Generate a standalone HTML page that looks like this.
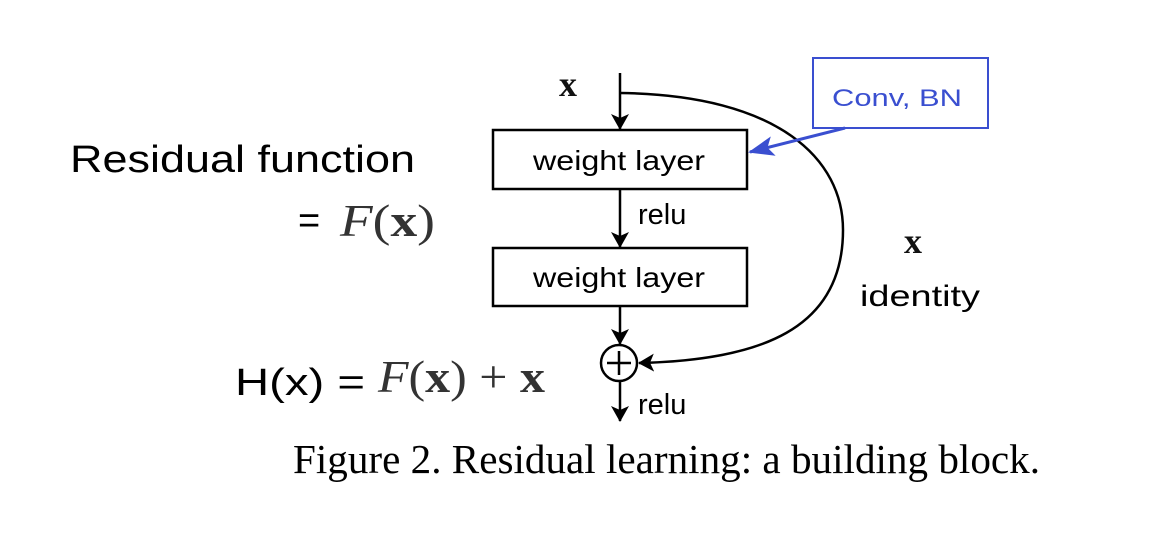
<!DOCTYPE html>
<html><head><meta charset="utf-8"><style>
html,body{margin:0;padding:0;background:#fff;}
</style></head><body>
<svg width="1174" height="530" viewBox="0 0 1174 530" xmlns="http://www.w3.org/2000/svg">
<defs>
<marker id="ah" markerWidth="16" markerHeight="18" refX="15" refY="9" orient="auto" markerUnits="userSpaceOnUse" viewBox="0 0 16 18">
<path d="M0,0 L16,9 L0,18 L4,9 z" fill="#000"/>
</marker>
<marker id="bh" markerWidth="26" markerHeight="20" refX="24" refY="10" orient="auto" markerUnits="userSpaceOnUse" viewBox="0 0 26 20">
<path d="M0,0 L26,10 L0,20 L6,10 z" fill="#3a4fd0"/>
</marker>
</defs>
<g stroke="#000" stroke-width="2.5" fill="none">
<line x1="620" y1="73" x2="620" y2="129" marker-end="url(#ah)"/>
<line x1="620" y1="190" x2="620" y2="247" marker-end="url(#ah)"/>
<line x1="620" y1="307" x2="620" y2="344" marker-end="url(#ah)"/>
<line x1="620" y1="381" x2="620" y2="421" marker-end="url(#ah)"/>
<rect x="493" y="130" width="254" height="59"/>
<rect x="493" y="248" width="254" height="58"/>
<circle cx="619" cy="363" r="18"/>
<line x1="607" y1="363" x2="631" y2="363"/>
<line x1="619" y1="351" x2="619" y2="375"/>
<path d="M620,93 C780,95 843,160 843,230 C843,330 760,360 639,363" marker-end="url(#ah)"/>
</g>
<g stroke="#3a4fd0" stroke-width="2" fill="none">
<rect x="813" y="58" width="175" height="70"/>
<line x1="845" y1="128" x2="750" y2="152" stroke-width="3" marker-end="url(#bh)"/>
</g>
<text x="832" y="106" font-family="Liberation Sans, sans-serif" font-size="24" fill="#3a4fd0" textLength="130" lengthAdjust="spacingAndGlyphs">Conv, BN</text>
<g font-family="Liberation Sans, sans-serif" fill="#000">
<text x="619" y="170" font-size="28" text-anchor="middle" textLength="172" lengthAdjust="spacingAndGlyphs">weight layer</text>
<text x="619" y="287" font-size="28" text-anchor="middle" textLength="172" lengthAdjust="spacingAndGlyphs">weight layer</text>
<text x="638" y="224" font-size="29">relu</text>
<text x="638" y="414" font-size="29">relu</text>
<text x="860" y="306" font-size="30" textLength="120" lengthAdjust="spacingAndGlyphs">identity</text>
</g>
<g font-family="Liberation Serif, serif" font-weight="bold" fill="#111">
<text x="559" y="96" font-size="36">x</text>
<text x="904" y="253" font-size="36">x</text>
</g>
<g font-family="Liberation Sans, sans-serif" fill="#000">
<text x="70" y="172" font-size="38" textLength="345" lengthAdjust="spacingAndGlyphs">Residual function</text>
<text x="298" y="233" font-size="38">=</text>
<text x="235" y="395" font-size="38" textLength="130" lengthAdjust="spacingAndGlyphs">H(x) =</text>
</g>
<g font-family="Liberation Serif, serif" fill="#333">
<text x="340" y="236" font-size="46" textLength="95" lengthAdjust="spacingAndGlyphs"><tspan font-style="italic">F</tspan>(<tspan font-weight="bold">x</tspan>)</text>
<text x="378" y="392" font-size="46" textLength="167" lengthAdjust="spacingAndGlyphs"><tspan font-style="italic">F</tspan>(<tspan font-weight="bold">x</tspan>) + <tspan font-weight="bold">x</tspan></text>
</g>
<text x="293" y="473" font-family="Liberation Serif, serif" font-size="41" fill="#000" textLength="747" lengthAdjust="spacingAndGlyphs">Figure 2. Residual learning: a building block.</text>
</svg>
</body></html>
